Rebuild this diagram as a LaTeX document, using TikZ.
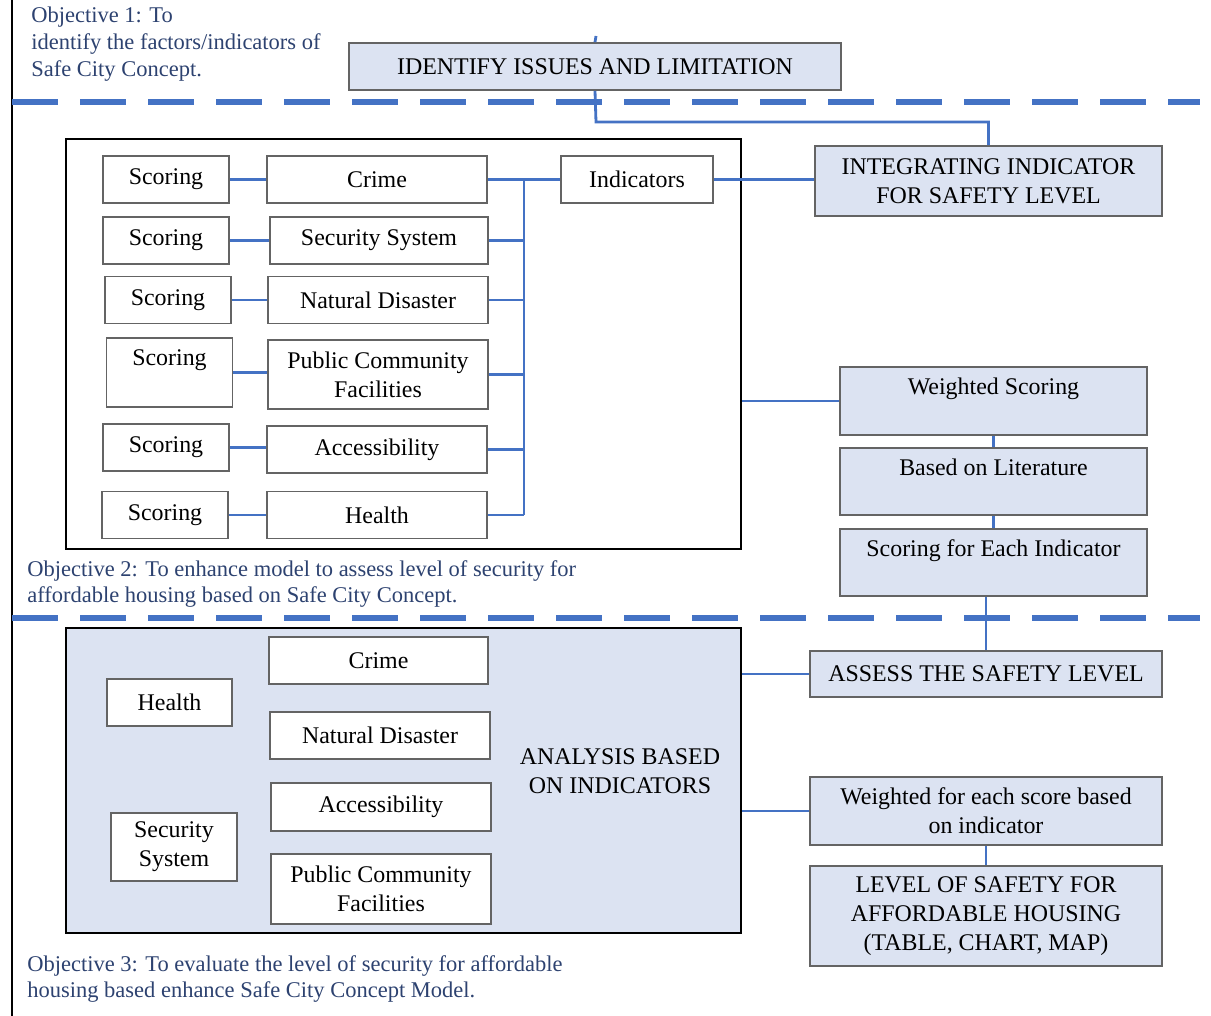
\documentclass[tikz,border=0pt]{standalone}
\usepackage{fontspec}
\setmainfont{Liberation Serif}
\definecolor{linkblue}{RGB}{68,114,196}
\definecolor{boxfill}{RGB}{220,227,242}
\definecolor{objtext}{RGB}{45,66,112}
\definecolor{boxline}{RGB}{100,100,100}

\begin{document}
\begin{tikzpicture}[
	x=0.025cm, y=-0.025cm,
	box/.style={ draw=boxline, line width=1.2pt, fill=white, inner sep=2pt, align=center, font=\fontsize{17}{20.5}\selectfont },
	boxb/.style={ box, fill=boxfill },
	panel/.style={ draw=black, line width=1.7pt },
	link/.style={ linkblue, line width=2pt },
	divider/.style={ linkblue, line width=4pt, dash pattern=on 1.15cm off 0.55cm },
	objective/.style={ objtext, anchor=north west, inner sep=0pt, align=left, font=\fontsize{16}{19.1}\selectfont },
	score/.style={ box, minimum width=3.15cm, minimum height=1.175cm },
	factor/.style={ box, minimum width=5.5cm, minimum height=1.175cm }
]
\useasboundingbox (0,0) rectangle (1211,1016);

\draw[line width=1.2pt] (12,0) -- (12,1016);
\draw[divider] (12,102) -- (1200,102);
\draw[divider] (12,618) -- (1200,618);

% objective 1
\node at (31,7) (objone) [objective] {Objective 1: To\\identify the factors/indicators of\\Safe City Concept.};
\node at (595,66.5) (identify) [boxb, minimum width=12.3cm, minimum height=1.175cm] {IDENTIFY ISSUES AND LIMITATION};
\node at (988.5,181) (integrate) [boxb, minimum width=8.675cm, minimum height=1.75cm] {INTEGRATING INDICATOR\\FOR SAFETY LEVEL};
\coordinate (topstub) at (596,36);
\coordinate (bend) at (596,122);
\draw[link] (topstub) -- (identify.north);
\draw[link] (identify.south) -- (bend) -| (integrate.north);

% objective 2
\node at (403.5,344) (frameone) [panel, minimum width=16.875cm, minimum height=10.25cm] {};

\node at (166,179.5) (scoreA) [score] {Scoring};
\node at (166,240.5) (scoreB) [score] {Scoring};
\node at (168,300) (scoreC) [score] {Scoring};
\node at (169.5,372.5) (scoreD) [score, minimum height=1.725cm] {Scoring\\~};
\node at (166,447.5) (scoreE) [score] {Scoring};
\node at (165,515) (scoreF) [score] {Scoring};

\node at (377,179.5) (crime) [factor] {Crime};
\node at (379,240.5) (security) [factor, minimum width=5.45cm] {Security System};
\node at (378,300) (natural) [factor] {Natural Disaster};
\node at (378,374.5) (public) [factor, minimum height=1.725cm] {Public Community\\Facilities};
\node at (377,449.5) (access) [factor] {Accessibility};
\node at (377,515) (health) [factor] {Health};
\node at (637,179.5) (indicators) [box, minimum width=3.8cm, minimum height=1.175cm] {Indicators};

\foreach \s/\f in {scoreA/crime,scoreB/security,scoreC/natural,scoreD/public,scoreE/access,scoreF/health} \draw[link] (\s.east) -- (\s.east -| \f.west);
\coordinate (bus) at (524,0);
\foreach \f in {security,natural,public,access,health} \draw[link] (\f.east) -- (\f.east -| bus);
\draw[link] (crime.east -| bus) -- (health.east -| bus);
\draw[link] (crime.east) -- (crime.east -| indicators.west);
\draw[link] (indicators.east) -- (indicators.east -| integrate.west);

\node at (993.5,401) (weighted) [boxb, minimum width=7.675cm, minimum height=1.7cm] {Weighted Scoring\\~};
\node at (993.5,481.5) (literature) [boxb, minimum width=7.675cm, minimum height=1.675cm] {Based on Literature\\~};
\node at (993.5,562.5) (eachscore) [boxb, minimum width=7.675cm, minimum height=1.675cm] {Scoring for Each Indicator\\~};
\draw[link] (frameone.east |- weighted.west) -- (weighted.west);
\draw[link] (weighted) -- (literature);
\draw[link] (literature) -- (eachscore);

\node at (27,560) (objtwo) [objective] {Objective 2: To enhance model to assess level of security for\\affordable housing based on Safe City Concept.};

% objective 3
\node at (403.5,780.5) (frametwo) [panel, fill=boxfill, minimum width=16.875cm, minimum height=7.625cm] {};

\node at (378.5,660.5) (crimeB) [factor, minimum width=5.475cm] {Crime};
\node at (169.5,702.5) (healthB) [score, minimum width=3.125cm] {Health};
\node at (380,735.5) (naturalB) [factor] {Natural Disaster};
\node at (381,807) (accessB) [factor, minimum height=1.2cm] {Accessibility};
\node at (174,847) (securityB) [score, minimum height=1.7cm] {Security\\System};
\node at (381,889) (publicB) [factor, minimum height=1.75cm] {Public Community\\Facilities};
\node at (620,771) (analysis) [align=center, font=\fontsize{17}{20.5}\selectfont] {ANALYSIS BASED\\ON INDICATORS};

\node at (986,674) (assess) [boxb, minimum width=8.8cm, minimum height=1.15cm] {ASSESS THE SAFETY LEVEL};
\node at (986,811) (weighteach) [boxb, minimum width=8.8cm, minimum height=1.7cm] {Weighted for each score based\\on indicator};
\node at (986,916) (level) [boxb, minimum width=8.8cm, minimum height=2.5cm] {LEVEL OF SAFETY FOR\\AFFORDABLE HOUSING\\(TABLE, CHART, MAP)};
\draw[link] (eachscore.south -| assess.north) -- (assess.north);
\draw[link] (frametwo.east |- assess.west) -- (assess.west);
\draw[link] (frametwo.east |- weighteach.west) -- (weighteach.west);
\draw[link] (weighteach) -- (level);

\node at (27,955) (objthree) [objective] {Objective 3: To evaluate the level of security for affordable\\housing based enhance Safe City Concept Model.};

\end{tikzpicture}
\end{document}
